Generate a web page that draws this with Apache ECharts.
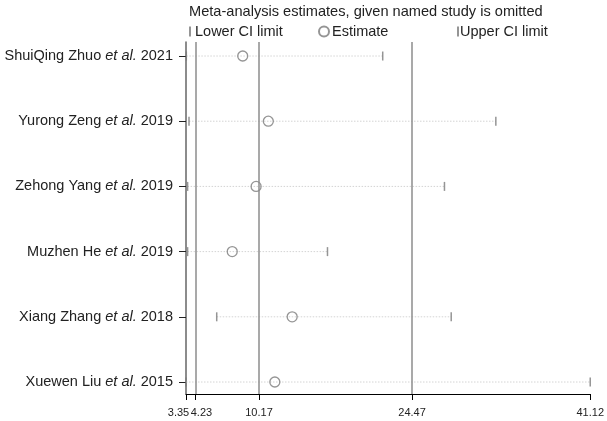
<!DOCTYPE html>
<html>
<head>
<meta charset="utf-8">
<script src="https://cdn.jsdelivr.net/npm/echarts@6/dist/echarts.min.js"></script>
<style>html,body{margin:0;padding:0;background:#fff}#c{width:607px;height:421px}</style>
</head>
<body>
<div id="c"></div>
<script>
var studies = ['ShuiQing Zhuo', 'Yurong Zeng', 'Zehong Yang', 'Muzhen He', 'Xiang Zhang', 'Xuewen Liu'];
var years = ['2021', '2019', '2019', '2019', '2018', '2015'];
var lowerCI = [3.38, 3.63, 3.50, 3.50, 6.22, 3.35];
var estimate = [8.65, 11.04, 9.90, 7.67, 13.27, 11.65];
var upperCI = [21.73, 32.30, 27.50, 16.57, 28.13, 41.12];
var overall = [4.23, 10.17, 24.47];
var xTicks = [3.35, 10.17, 24.47, 41.12];
var xTicksCrowded = [4.23];

var FONT = '"Liberation Sans", Arial, Helvetica, sans-serif';
var GRAY = '#7a7a7a';

function pts(arr) { return arr.map(function (v, i) { return [v, i]; }); }
var ciData = lowerCI.map(function (v, i) { return [v, upperCI[i], i]; });

function xAxisDef(ticks, showLine) {
  return {
    type: 'value', min: 3.35, max: 41.12, position: 'bottom', gridIndex: 0,
    axisLine: { show: showLine, onZero: false, lineStyle: { color: '#000', width: 1 } },
    axisTick: { show: true, length: 6, lineStyle: { color: '#000' }, customValues: ticks },
    axisLabel: { fontFamily: FONT, fontSize: 11, color: '#222', margin: 13, customValues: ticks,
      showMinLabel: true, showMaxLabel: true, hideOverlap: false,
      formatter: function (v) { var s = v.toFixed(2); return v === 3.35 ? '{l|' + s + '}' : (v === 4.23 ? '{r|' + s + '}' : s); },
      rich: {
        l: { fontFamily: FONT, fontSize: 11, color: '#222', padding: [0, 15, 0, 0] },
        r: { fontFamily: FONT, fontSize: 11, color: '#222', padding: [0, 0, 0, 12] }
      } },
    splitLine: { show: false }
  };
}

var chart = echarts.init(document.getElementById('c'));
chart.setOption({
  animation: false,
  backgroundColor: '#fff',
  title: {
    text: 'Meta-analysis estimates, given named study is omitted',
    left: 184, top: 4, padding: [0, 5],
    textStyle: { fontFamily: FONT, fontSize: 14.6, fontWeight: 'normal', color: '#222' }
  },
  legend: [
    { data: ['Lower CI limit'], left: 184, top: 19, icon: 'rect', itemWidth: 2, itemHeight: 10, itemGap: 4,
      textStyle: { fontFamily: FONT, fontSize: 14.5, color: '#222', padding: [0, 0, 0, -1] } },
    { data: ['Estimate'], left: 313, top: 19, itemWidth: 10, itemHeight: 10,
      textStyle: { fontFamily: FONT, fontSize: 14.5, color: '#222', padding: [0, 0, 0, -2] } },
    { data: ['Upper CI limit'], left: 452, top: 19, icon: 'rect', itemWidth: 2, itemHeight: 10,
      textStyle: { fontFamily: FONT, fontSize: 14.5, color: '#222', padding: [0, 0, 0, -4] } }
  ],
  grid: { left: 186, right: 16, top: 42, bottom: 27 },
  xAxis: [xAxisDef(xTicks, true), xAxisDef(xTicksCrowded, false)],
  yAxis: {
    type: 'value', min: -0.215, max: 5.184, inverse: true,
    axisLine: { show: true, onZero: false, lineStyle: { color: '#666', width: 1.5 } },
    axisTick: { show: true, length: 7, lineStyle: { color: '#222' }, customValues: [0, 1, 2, 3, 4, 5] },
    axisLabel: {
      customValues: [0, 1, 2, 3, 4, 5], margin: 13,
      showMinLabel: true, showMaxLabel: true, hideOverlap: false,
      formatter: function (v) {
        var i = Math.round(v);
        return '{n|' + studies[i] + ' }{i|et al.}{n| ' + years[i] + '}';
      },
      rich: {
        n: { fontFamily: FONT, fontSize: 14.5, color: '#222' },
        i: { fontFamily: FONT, fontSize: 14.5, color: '#222', fontStyle: 'italic' }
      }
    },
    splitLine: { show: false }
  },
  series: [
    {
      type: 'custom', name: 'ci', silent: true, z: 1,
      data: ciData,
      renderItem: function (params, api) {
        var a = api.coord([api.value(0), api.value(2)]);
        var b = api.coord([api.value(1), api.value(2)]);
        return { type: 'line', shape: { x1: a[0], y1: a[1], x2: b[0], y2: b[1] },
          style: { stroke: '#d4d4d4', lineWidth: 1, lineDash: [1.5, 1.5] } };
      },
      markLine: {
        silent: true, symbol: 'none', label: { show: false },
        lineStyle: { color: '#8c8c8c', width: 1.5, type: 'solid' },
        data: overall.map(function (v) { return { xAxis: v }; })
      }
    },
    {
      type: 'scatter', name: 'Lower CI limit', z: 3,
      symbol: 'rect', symbolSize: [1.5, 9],
      itemStyle: { color: GRAY },
      data: pts(lowerCI)
    },
    {
      type: 'scatter', name: 'Estimate', z: 3,
      symbol: 'circle', symbolSize: 10,
      itemStyle: { color: 'rgba(255,255,255,0)', borderColor: GRAY, borderWidth: 1.3 },
      data: pts(estimate)
    },
    {
      type: 'scatter', name: 'Upper CI limit', z: 3,
      symbol: 'rect', symbolSize: [1.5, 9],
      itemStyle: { color: GRAY },
      data: pts(upperCI)
    }
  ]
});
</script>
</body>
</html>
